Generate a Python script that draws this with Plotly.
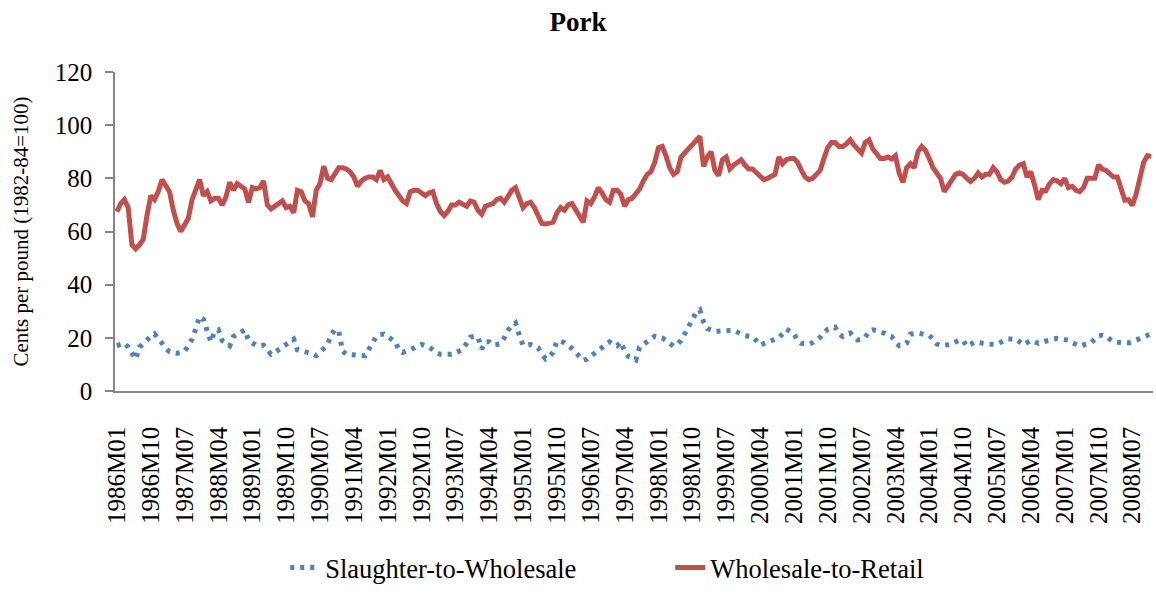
import plotly.graph_objects as go

# Monthly categories 1986M01 .. 2008M12
months = [f"{y}M{m:02d}" for y in range(1986, 2009) for m in range(1, 13)]

tick_labels = [
    "1986M01", "1986M10", "1987M07", "1988M04", "1989M01", "1989M10", "1990M07",
    "1991M04", "1992M01", "1992M10", "1993M07", "1994M04", "1995M01", "1995M10",
    "1996M07", "1997M04", "1998M01", "1998M10", "1999M07", "2000M04", "2001M01",
    "2001M10", "2002M07", "2003M04", "2004M01", "2004M10", "2005M07", "2006M04",
    "2007M01", "2007M10", "2008M07",
]

slaughter_to_wholesale = [
    17, 17.5, 18, 16.5, 14, 12, 16.5, 18, 19.5, 20.5, 21.5, 20,
    18, 16, 14.8, 14.5, 14.2, 14.5, 15, 17, 19.5, 23.5, 28, 27,
    22.5, 18.5, 22.5, 23, 19, 18, 17, 20.5, 21.5, 22.5, 23, 19,
    18, 17.2, 17, 17.2, 15.5, 13.8, 14.5, 15.5, 16.5, 17.5, 18.5, 19.5,
    15.5, 15, 14.8, 14.4, 14, 13.3, 14.5, 15.8, 17.5, 21, 23.2, 22.5,
    15, 13.8, 13.8, 13.8, 13.6, 13.4, 13.3, 15.5, 18, 20.5, 21.2, 21.4,
    20.5, 19.5, 18.5, 15.5, 14.5, 15, 15.4, 16.2, 17, 17.5, 17, 16.5,
    15.5, 14.3, 13.8, 13.7, 13.6, 13.8, 14.2, 15, 15.8, 18, 20.3, 20.5,
    20.3, 15.8, 18.5, 18.5, 17.3, 17.5, 17.8, 20, 22.8, 24.5, 25.6, 21,
    17.2, 17.3, 17.5, 17, 16.3, 14, 12.1, 13, 14.5, 18.7, 18.7, 18.2,
    17.2, 16, 14.5, 13, 11.5, 12, 13, 14.2, 15.2, 16, 17.3, 18.5,
    17.5, 17, 18.5, 15, 13, 12.5, 11.7, 16.5, 17.5, 19, 20, 20.6,
    20.2, 20, 19, 18, 16.9, 17.5, 19, 21.5, 24.5, 27, 29.5, 30.5,
    26, 23.5, 23, 22.4, 22.5, 22.7, 22.8, 22.8, 22.8, 22, 21.2, 20.8,
    20.6, 20.4, 19, 17.3, 17.8, 18.3, 18.8, 19.4, 20, 21.5, 23.2, 22.5,
    21.6, 19, 17.9, 17.8, 17.6, 18.2, 19, 20.2, 22, 23.2, 23.6, 24,
    21.5, 20.5, 21.2, 21.8, 20.5, 19.2, 19.5, 20.2, 22.5, 23, 22.7, 22.3,
    21.8, 21, 20.5, 18.5, 17, 17.3, 18, 21.4, 21.7, 21.8, 21.5, 21.2,
    20.9, 19.5, 17.7, 17.1, 17.1, 17.4, 17.7, 18.4, 19.2, 19, 16.8, 17.5,
    18.4, 18.2, 17.9, 17.7, 17.6, 17.6, 17.6, 18.3, 19, 19.6, 19.6, 19.6,
    18.5, 17.4, 18.2, 19, 18.5, 17.9, 18.4, 18.9, 19.2, 19.5, 19.8, 19.6,
    19.3, 19.1, 18.2, 17.4, 16.9, 17.3, 17.7, 18.1, 19.5, 20.8, 21, 20.6,
    19.5, 18.5, 18.3, 18.1, 18.1, 18.1, 18.6, 19.2, 20, 20.8, 21.3, 21.5,
]

wholesale_to_retail = [
    67.5, 70.5, 72, 69, 55, 53.5, 55, 57, 66, 73.5, 72, 75,
    79.5, 77.5, 75, 68, 63, 60, 62.5, 65, 72, 76, 79.5, 73.5,
    75, 71.5, 72.5, 72.5, 70, 73, 78.5, 75.5, 78, 77, 76, 71,
    76.5, 76, 76.5, 79, 70, 68.5, 69.5, 71, 71.5, 69, 69.5, 67,
    75.5, 75, 71.5, 70.5, 65.5, 75.5, 78, 84.5, 80, 79.5, 82, 84,
    84, 83.5, 82.5, 80.5, 77, 79, 80, 80.5, 80.5, 79.5, 83, 79.5,
    80.5, 77.5, 75.5, 73.5, 71.5, 70.5, 75, 75.5, 75.5, 74.5, 73.5, 74.5,
    75, 70.5, 67.5, 66, 67.5, 70, 70, 71, 70, 69.5, 71.5, 71,
    68, 66.5, 69.5, 70, 70.5, 72, 72.5, 71, 73, 75.5, 76.5, 72,
    69, 70.5, 71, 69, 66, 63, 62.8, 63, 63.5, 67, 69, 68,
    70, 70.5, 68, 66, 63.5, 71.5, 70.5, 73, 76.5, 74.5, 72, 71,
    75.5, 75.5, 74, 69.5, 72, 72.5, 74, 76, 79, 81.5, 82.5, 86,
    91.5, 92, 88.5, 84, 81.5, 82.5, 88, 89.5, 91, 93, 94.5, 95.8,
    84.5, 88, 90, 83, 81, 87, 88, 83.5, 85, 86, 87, 85,
    83.5, 83.5, 82, 80.5, 79.5, 80, 80.5, 81.5, 88, 85.5, 87, 87.5,
    87.5, 86, 83, 80.5, 79.5, 80, 81.5, 83, 87.5, 91.5, 93.5, 93.5,
    92, 92, 93, 94.5, 92.5, 91, 89.5, 93.5, 94.5, 91, 89.5, 87.5,
    87.5, 88, 87.3, 88.5, 82, 78.5, 84, 85.5, 84, 90, 92, 90.5,
    87.5, 84, 82, 80, 75, 77, 79, 81.5, 82, 81.5, 80, 78.8,
    80, 82, 80.5, 81.5, 81.5, 84, 82.5, 79.5, 78.5, 79, 80.5, 83.5,
    85, 85.5, 80.5, 82.5, 77.5, 72, 75.5, 75.3, 78, 79.5, 79, 78,
    80, 76.5, 77, 75.5, 75, 76.5, 80, 80, 80, 85, 83.5, 83,
    82, 80.5, 80.5, 76.5, 71.8, 72, 69.8, 74, 80, 86, 88.5, 88.3,
]

y_ticks = [0, 20, 40, 60, 80, 100, 120]

FONT = "Liberation Serif, Times New Roman, serif"
AXIS_GRAY = "#868686"

fig = go.Figure()
fig.add_trace(go.Scatter(
    x=months, y=slaughter_to_wholesale, mode="lines",
    name="Slaughter-to-Wholesale",
    line=dict(color="#4F81BD", width=5, dash="4px,6px"),
))
fig.add_trace(go.Scatter(
    x=months, y=wholesale_to_retail, mode="lines",
    name="Wholesale-to-Retail",
    line=dict(color="#C0504D", width=5),
))

fig.update_layout(
    width=1156, height=595,
    margin=dict(l=115, r=3, t=72, b=198),
    paper_bgcolor="white", plot_bgcolor="white",
    font=dict(family=FONT, color="black"),
    title=dict(text="<b>Pork</b>", font=dict(family=FONT, size=27, color="black"),
               x=0.5, xref="container", xanchor="center",
               y=1 - 22 / 595, yref="container", yanchor="middle"),
    showlegend=True,
    legend=dict(orientation="h", font=dict(family=FONT, size=26.5, color="black"),
                x=0.164, xanchor="left", y=-0.554, yanchor="middle",
                entrywidth=340, entrywidthmode="pixels",
                bgcolor="rgba(0,0,0,0)"),
    xaxis=dict(type="category", range=[-0.5, len(months) - 0.5],
               tickmode="array", tickvals=tick_labels, ticktext=tick_labels,
               tickangle=-90, tickfont=dict(family=FONT, size=25, color="black"),
               showline=True, linecolor=AXIS_GRAY, linewidth=1.5,
               ticks="", ticklabelstandoff=24, showgrid=False, zeroline=False),
    yaxis=dict(range=[0, 120], tickmode="array", tickvals=y_ticks,
               tickfont=dict(family=FONT, size=25, color="black"),
               showline=True, linecolor=AXIS_GRAY, linewidth=1.5,
               ticks="outside", ticklen=8, tickcolor=AXIS_GRAY, tickwidth=1.5,
               ticklabelstandoff=8, showgrid=False, zeroline=False,
               title=dict(text="Cents per pound (1982-84=100)",
                          font=dict(family=FONT, size=21, color="black"),
                          standoff=20)),
)

fig.write_html("out.html", config={"displayModeBar": False},
               post_script="document.body.style.margin='0';")
